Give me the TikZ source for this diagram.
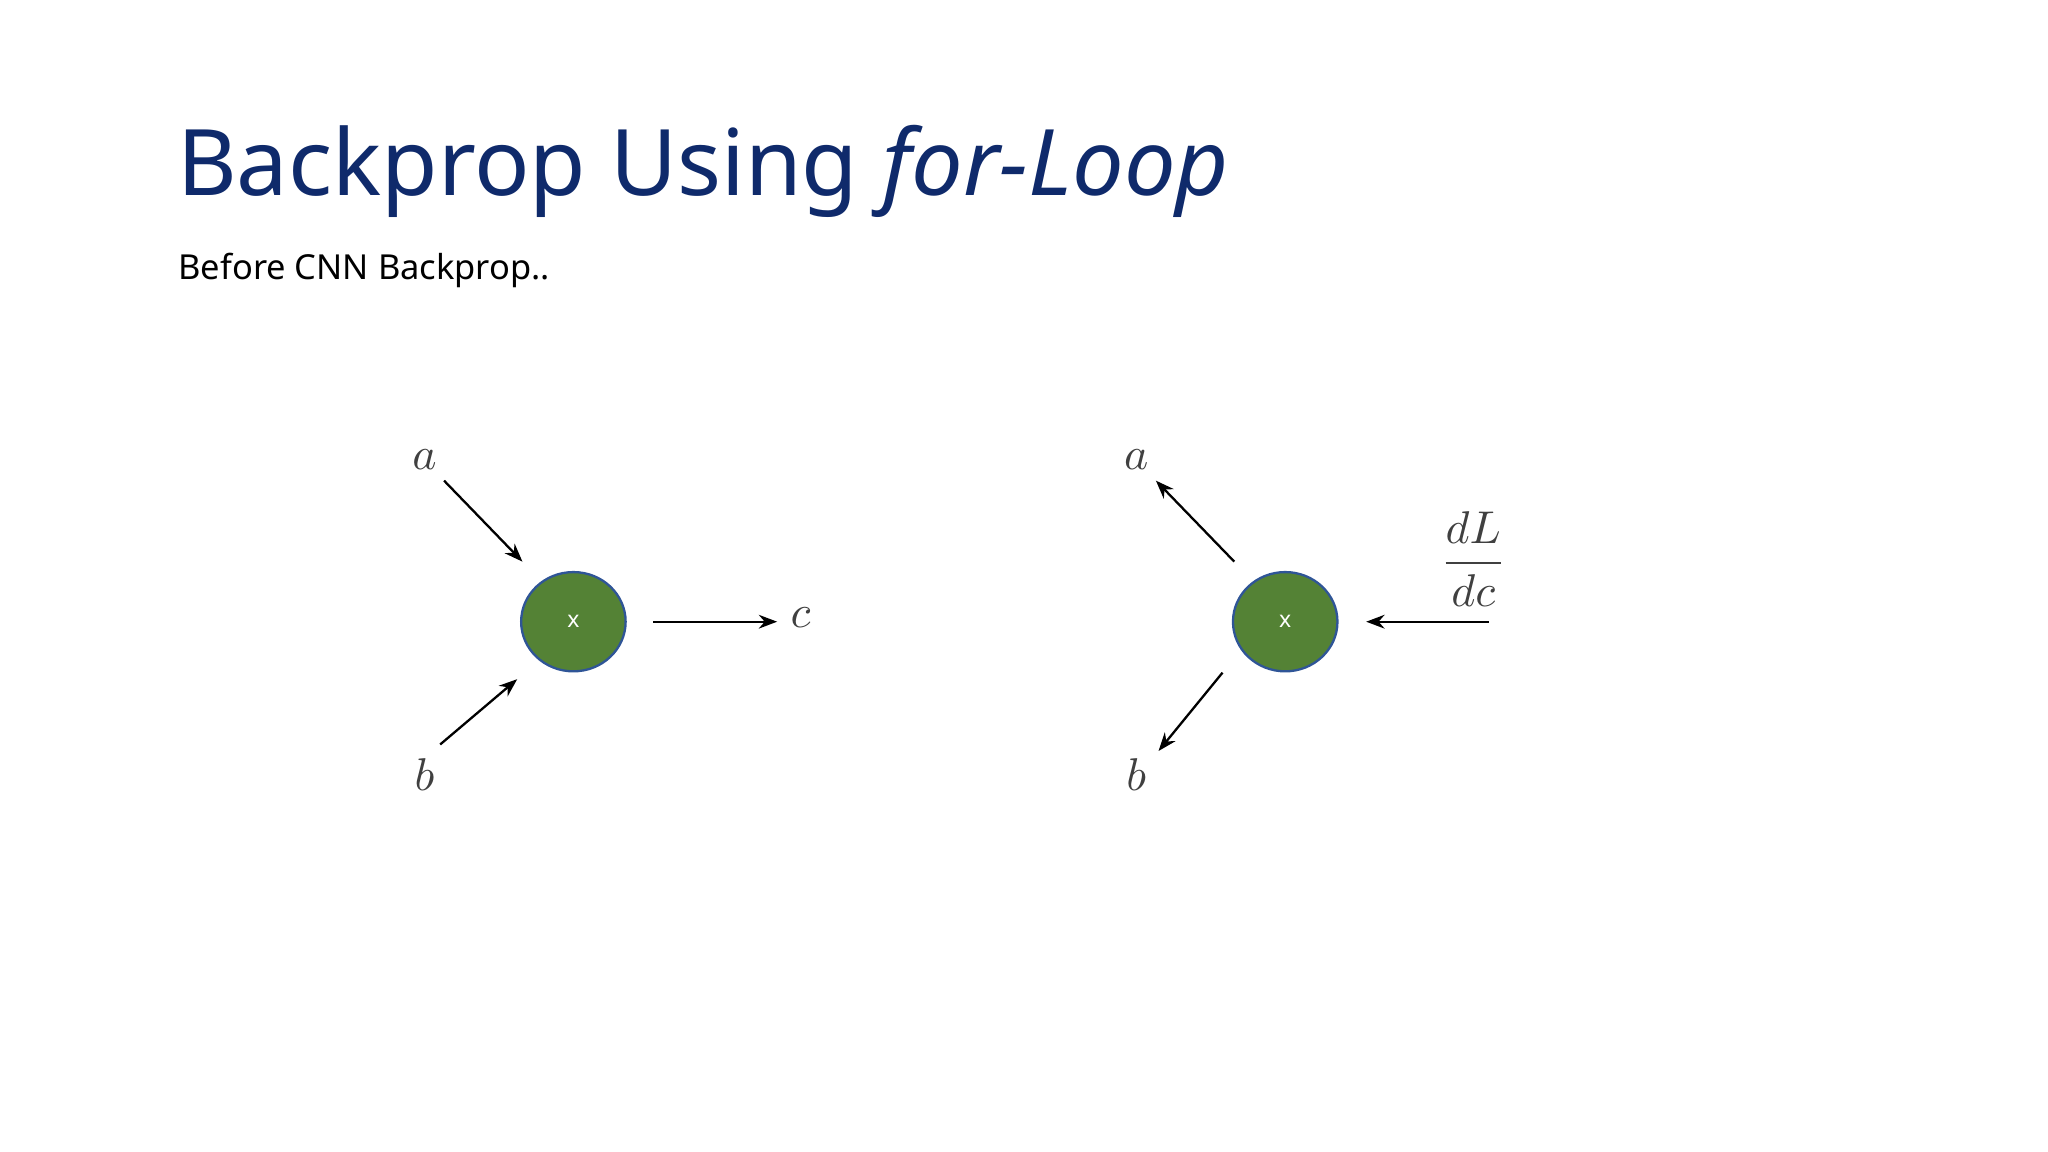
\documentclass[tikz,border=0pt]{standalone}
\usepackage{fontspec}
\setmainfont{Noto Sans}
\usetikzlibrary{arrows.meta}
\definecolor{navy}{HTML}{0F2A6B}
\definecolor{gfill}{HTML}{548235}
\definecolor{gline}{HTML}{2F5597}
\definecolor{lab}{HTML}{404040}
\begin{document}
\begin{tikzpicture}[x=0.01cm,y=-0.01cm,
  arr/.style={-{Stealth[length=4pt,width=3pt]},line width=0.5pt},
  lbl/.style={text=lab,font=\fontsize{10}{12}\selectfont}]
\useasboundingbox (0,0) rectangle (1568,882);
\node[anchor=base west,text=navy,font=\fontsize{20}{24}\selectfont\bfseries,inner sep=0] (title) at (135,150) {Backprop Using \textit{for-Loop}};
\node[anchor=base west,font=\fontsize{7.5}{9}\selectfont,inner sep=0] (sub) at (136,214) {Before CNN Backprop..};
% left
\draw[gline,fill=gfill,line width=0.5pt] (439,476) ellipse [x radius=40,y radius=38];
\node[text=white,font=\fontsize{5}{6}\selectfont] (n1) at (439,476) {x};
\coordinate (a1s) at (340,368); \coordinate (a1e) at (400,430);
\coordinate (b1s) at (337,570); \coordinate (b1e) at (396,520);
\coordinate (c1s) at (500,476); \coordinate (c1e) at (595,476);
\draw[arr] (a1s) -- (a1e);
\draw[arr] (b1s) -- (b1e);
\draw[arr] (c1s) -- (c1e);
\node[lbl] (la1) at (325,352) {$a$};
\node[lbl] (lb1) at (325,593) {$b$};
\node[lbl] (lc1) at (613,473) {$c$};
% right
\draw[gline,fill=gfill,line width=0.5pt] (984,476) ellipse [x radius=40,y radius=38];
\node[text=white,font=\fontsize{5}{6}\selectfont] (n2) at (984,476) {x};
\coordinate (a2s) at (945,430); \coordinate (a2e) at (885,368);
\coordinate (b2s) at (936,515); \coordinate (b2e) at (887,575);
\coordinate (c2s) at (1140,476); \coordinate (c2e) at (1046,476);
\draw[arr] (a2s) -- (a2e);
\draw[arr] (b2s) -- (b2e);
\draw[arr] (c2s) -- (c2e);
\node[lbl] (la2) at (870,352) {$a$};
\node[lbl] (lb2) at (870,593) {$b$};
\node[lbl] (ld) at (1128,428) {$\displaystyle\frac{dL}{dc}$};
\end{tikzpicture}
\end{document}
